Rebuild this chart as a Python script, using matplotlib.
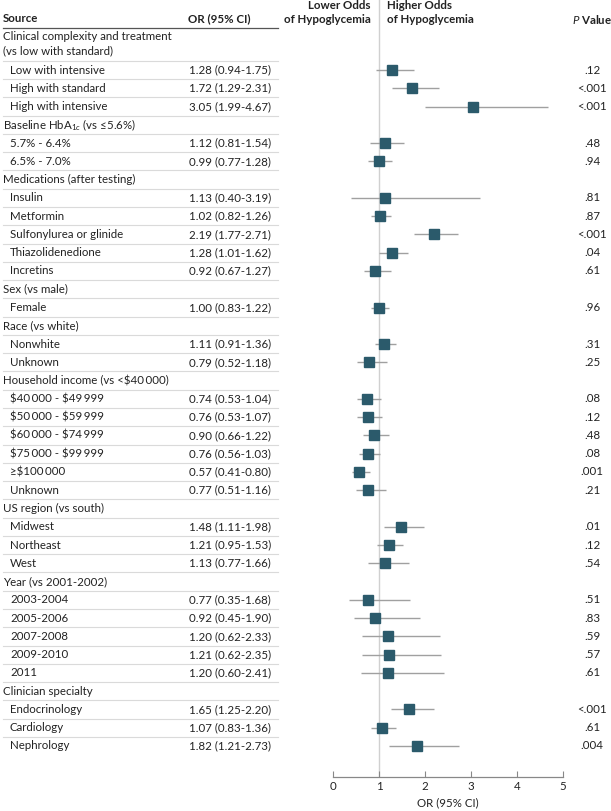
import matplotlib.pyplot as plt
import matplotlib.transforms as mtransforms

plt.rcParams['font.family'] = ['Lato', 'DejaVu Sans']
plt.rcParams['mathtext.fontset'] = 'custom'
plt.rcParams['mathtext.rm'] = 'Lato'
plt.rcParams['mathtext.it'] = 'Lato:italic'

TS = '\u2009'  # thin space in the income labels

# rows of the table, group headers have None for the values
labels = ['Clinical complexity and treatment\n(vs low with standard)',
          'Low with intensive', 'High with standard', 'High with intensive',
          'Baseline HbA$_{1c}$ (vs \u22645.6%)',
          '5.7% - 6.4%', '6.5% - 7.0%',
          'Medications (after testing)',
          'Insulin', 'Metformin', 'Sulfonylurea or glinide', 'Thiazolidenedione', 'Incretins',
          'Sex (vs male)',
          'Female',
          'Race (vs white)',
          'Nonwhite', 'Unknown',
          'Household income (vs <$40' + TS + '000)',
          '$40' + TS + '000 - $49' + TS + '999', '$50' + TS + '000 - $59' + TS + '999',
          '$60' + TS + '000 - $74' + TS + '999', '$75' + TS + '000 - $99' + TS + '999',
          '\u2265$100' + TS + '000', 'Unknown',
          'US region (vs south)',
          'Midwest', 'Northeast', 'West',
          'Year (vs 2001-2002)',
          '2003-2004', '2005-2006', '2007-2008', '2009-2010', '2011',
          'Clinician specialty',
          'Endocrinology', 'Cardiology', 'Nephrology']

odds = [None, 1.28, 1.72, 3.05, None, 1.12, 0.99, None, 1.13, 1.02, 2.19, 1.28, 0.92,
        None, 1.00, None, 1.11, 0.79, None, 0.74, 0.76, 0.90, 0.76, 0.57, 0.77,
        None, 1.48, 1.21, 1.13, None, 0.77, 0.92, 1.20, 1.21, 1.20, None, 1.65, 1.07, 1.82]
lower = [None, 0.94, 1.29, 1.99, None, 0.81, 0.77, None, 0.40, 0.82, 1.77, 1.01, 0.67,
         None, 0.83, None, 0.91, 0.52, None, 0.53, 0.53, 0.66, 0.56, 0.41, 0.51,
         None, 1.11, 0.95, 0.77, None, 0.35, 0.45, 0.62, 0.62, 0.60, None, 1.25, 0.83, 1.21]
upper = [None, 1.75, 2.31, 4.67, None, 1.54, 1.28, None, 3.19, 1.26, 2.71, 1.62, 1.27,
         None, 1.22, None, 1.36, 1.18, None, 1.04, 1.07, 1.22, 1.03, 0.80, 1.16,
         None, 1.98, 1.53, 1.66, None, 1.68, 1.90, 2.33, 2.35, 2.41, None, 2.20, 1.36, 2.73]
pvals = [None, '.12', '<.001', '<.001', None, '.48', '.94', None, '.81', '.87', '<.001', '.04', '.61',
         None, '.96', None, '.31', '.25', None, '.08', '.12', '.48', '.08', '.001', '.21',
         None, '.01', '.12', '.54', None, '.51', '.83', '.59', '.57', '.61', None, '<.001', '.61', '.004']

xticks = [0, 1, 2, 3, 4, 5]

W, H = 611, 811
fig = plt.figure(figsize=(W / 100, H / 100), dpi=100)

row_h = 18.27
y0_pix = 70.0   # pixel centre of row 1
axis_pix = 777.0


def prow(p):
    # pixel y from top -> row units
    return 1 + (p - y0_pix) / row_h


ax = fig.add_axes([333 / W, 1 - axis_pix / H, 230 / W, axis_pix / H])
ax.set_xlim(0, 5)
ax.set_ylim(prow(axis_pix), prow(0))

ypos = [prow(44)] + list(range(1, len(labels)))

teal = '#2b5a6b'
fs = 8.3
txt = '#222222'

tr = mtransforms.blended_transform_factory(fig.transFigure, ax.transData)

ax.axvline(1, color='#d0d0d0', lw=1, zorder=0)

for i, lab in enumerate(labels):
    y = ypos[i]
    if odds[i] is None:
        fig.text(3 / W, y, lab, transform=tr, fontsize=fs, color=txt, va='center', ha='left',
                 linespacing=1.35, parse_math=('$_{' in lab))
    else:
        ax.errorbar(odds[i], y, xerr=[[odds[i] - lower[i]], [upper[i] - odds[i]]],
                    fmt='s', color=teal, ecolor='#a0a0a0', elinewidth=1.0, capsize=0,
                    markersize=6.5, zorder=3)
        fig.text(10 / W, y, lab, transform=tr, fontsize=fs, color=txt, va='center', ha='left',
                 parse_math=False)
        fig.text(271 / W, y, '%.2f (%.2f-%.2f)' % (odds[i], lower[i], upper[i]), transform=tr,
                 fontsize=fs, color=txt, va='center', ha='right')
        fig.text(592 / W, y, pvals[i], transform=tr, fontsize=fs, color=txt, va='center', ha='center')

# separators between table rows
for i in range(len(labels) - 1):
    ysep = i + 0.5
    ax.plot([3 / W, 278 / W], [ysep, ysep], transform=tr, color='#dadada', lw=0.8, clip_on=False)
ax.plot([3 / W, 278 / W], [prow(28), prow(28)], transform=tr, color='#555555', lw=0.9, clip_on=False)

# headers
fig.text(3 / W, prow(19), 'Source', transform=tr, fontsize=fs, fontweight='bold', color=txt,
         va='center', ha='left')
fig.text(188 / W, prow(19), 'OR (95% CI)', transform=tr, fontsize=fs, fontweight='bold', color=txt,
         va='center', ha='left')
fig.text(371 / W, prow(12.5), 'Lower Odds\nof Hypoglycemia', transform=tr, fontsize=fs,
         fontweight='bold', color=txt, va='center', ha='right', multialignment='right', linespacing=1.25)
fig.text(387 / W, prow(12.5), 'Higher Odds\nof Hypoglycemia', transform=tr, fontsize=fs,
         fontweight='bold', color=txt, va='center', ha='left', linespacing=1.25)
fig.text(592 / W, prow(19), '$P$ Value', transform=tr, fontsize=fs, fontweight='bold', color=txt,
         va='center', ha='center')

for s in ['top', 'right', 'left']:
    ax.spines[s].set_visible(False)
ax.spines['bottom'].set_color('#888888')
ax.spines['bottom'].set_linewidth(0.9)
ax.set_yticks([])
ax.set_xticks(xticks)
ax.tick_params(axis='x', direction='in', length=4, color='#888888', labelsize=fs, labelcolor=txt, pad=3)
ax.set_xlabel('OR (95% CI)', fontsize=fs, color=txt, labelpad=4)

fig.savefig('out.png', dpi=100)
